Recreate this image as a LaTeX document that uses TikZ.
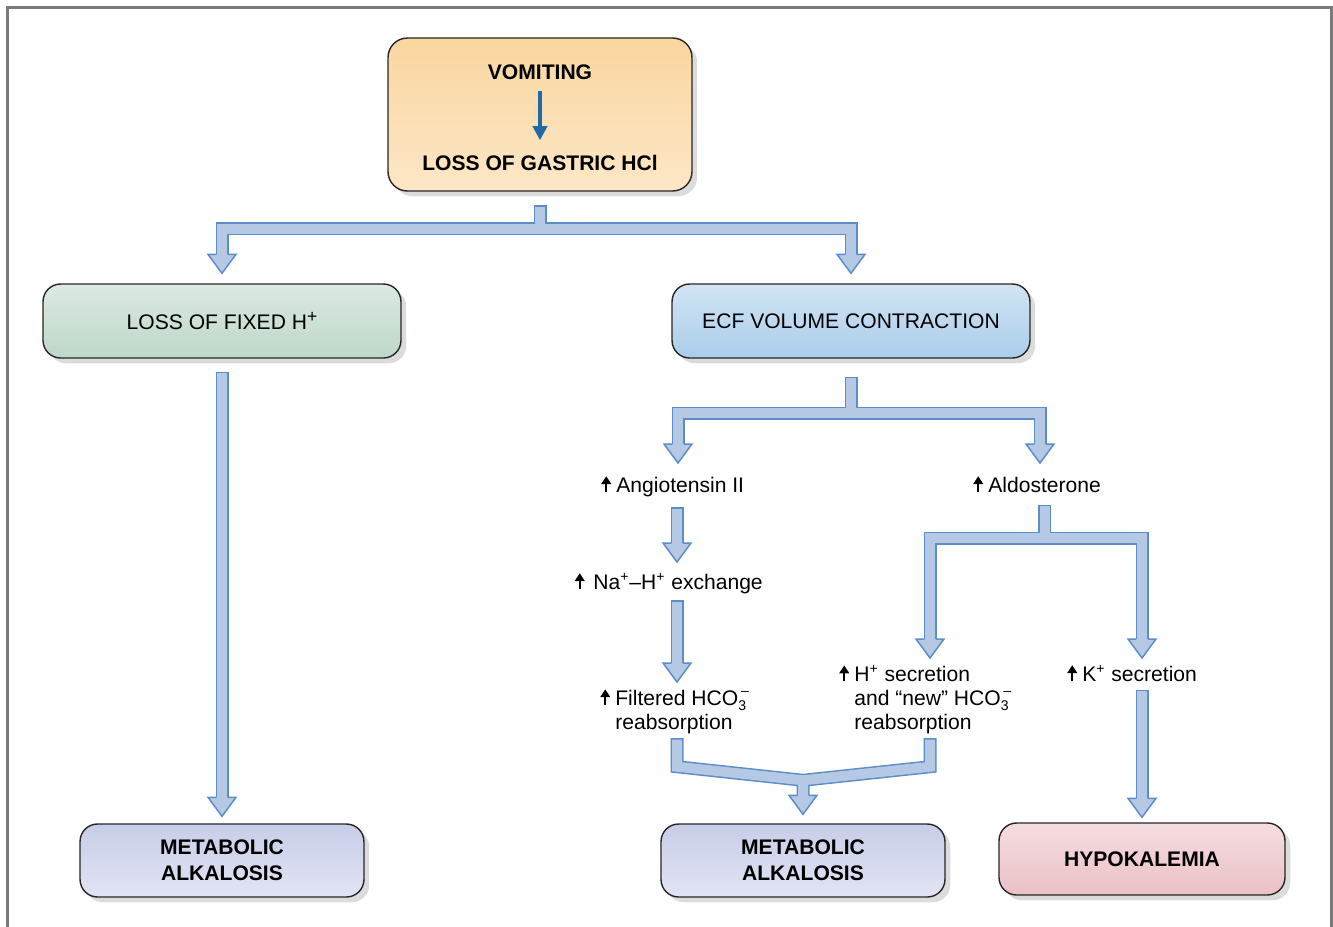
\documentclass[tikz,border=0pt]{standalone}
\usepackage{fontspec}
\setmainfont{Liberation Sans}
\usetikzlibrary{arrows.meta,calc,shadows}

\definecolor{vomfill}{HTML}{FAD6A0}
\definecolor{vomlight}{HTML}{FDE7C6}
\definecolor{fixfill}{HTML}{BED7C8}
\definecolor{fixlight}{HTML}{DCEAE2}
\definecolor{ecffill}{HTML}{AACDEB}
\definecolor{ecflight}{HTML}{D2E4F4}
\definecolor{alkfill}{HTML}{C8CDE8}
\definecolor{alklight}{HTML}{E2E4F4}
\definecolor{hypofill}{HTML}{EAC0C6}
\definecolor{hypolight}{HTML}{F5DDE1}
\definecolor{fatfill}{HTML}{B6C9E4}
\definecolor{fatedge}{HTML}{5D8DC9}
\definecolor{vomarrow}{HTML}{1E6BA8}
\definecolor{framegray}{HTML}{7A7A7A}

% small "increase" arrow in front of a label
\newcommand{\incr}{\tikz[baseline=0pt]\draw[line width=1.4pt,-{Triangle[width=5.5pt,length=4.5pt]}] (0pt,0pt) -- (0pt,9pt);}
% bicarbonate
\newcommand{\hco}{HCO\makebox[0pt][l]{\raisebox{-3pt}{\fontsize{8}{8}\selectfont 3}}\raisebox{5.5pt}{\fontsize{8}{8}\selectfont\hspace{1.5pt}–}}
% head of a wide arrow, base centred on #1
\newcommand{\fathead}[1]{%
    \fill[fatfill] (#1) ++(-14,0) -- ++(28,0) -- ++(-14,19) -- cycle;
    \draw[fatedge, line width=0.85pt, line join=miter] (#1) ++(-5.75,0) -- ++(-8.25,0) -- ++(14,19) -- ++(14,-19) -- ++(-8.25,0);
}

\begin{document}
\begin{tikzpicture}[
    x=0.02cm, y=-0.02cm,
    every node/.style={font=\fontsize{12}{13.6}\selectfont},
    box/.style={
        draw=black!85,
        line width=0.8pt,
        rounded corners=10pt,
        align=center,
        drop shadow={shadow xshift=3pt, shadow yshift=-3pt, opacity=0.3, fill=black!45}
    },
    lbl/.style={inner sep=0pt, anchor=base west, align=left},
    bold/.style={font=\fontsize{12}{14.8}\selectfont\bfseries},
    fat/.style={
        preaction={draw=fatedge, line width=0.26cm, line cap=rect, line join=miter},
        draw=fatfill, line width=0.2cm, line cap=rect, line join=miter
    }
]
    \useasboundingbox (0,0) rectangle (1333,927);

    % frame
    \draw[framegray, line width=1.7pt] (7.5,927) -- (7.5,7.5) -- (1331,7.5) -- (1331,927);

    % Vomiting
    \node[
        box,
        top color=vomfill, middle color=vomfill, bottom color=vomlight,
        minimum width=6.08cm,
        minimum height=3.06cm,
        rounded corners=11pt
    ] (vom) at (540,114.5) {};
    \node[bold] (vomit) at (540,72) {VOMITING};
    \node[bold] (gastric) at (540,163) {LOSS OF GASTRIC HCl};
    \draw[vomarrow, line width=2pt, -{Triangle[width=8pt,length=8pt]}]
        ([yshift=-3pt]vomit.south) -- ([yshift=5pt]gastric.north);

    % Second row
    \node[
        box,
        top color=fixlight, bottom color=fixfill,
        minimum width=7.16cm,
        minimum height=1.48cm
    ] (fixed) at (222,321) {LOSS OF FIXED H\raisebox{4.5pt}{\fontsize{10}{10}\selectfont +}};
    \node[
        box,
        top color=ecflight, bottom color=ecffill,
        minimum width=7.16cm,
        minimum height=1.48cm
    ] (ecf) at (851,321) {ECF VOLUME CONTRACTION};

    % Outcomes
    \node[
        box, bold,
        top color=alkfill, bottom color=alklight,
        minimum width=5.68cm,
        minimum height=1.46cm
    ] (alkleft) at (222,860.5) {METABOLIC\\ALKALOSIS};
    \node[
        box, bold,
        top color=alkfill, bottom color=alklight,
        minimum width=5.68cm,
        minimum height=1.46cm
    ] (alkmid) at (803,860.5) {METABOLIC\\ALKALOSIS};
    \node[
        box, bold,
        top color=hypolight, bottom color=hypofill,
        minimum width=5.72cm,
        minimum height=1.44cm
    ] (hypo) at (1142,859) {HYPOKALEMIA};

    % Mechanism labels (base = last line)
    \node[lbl] (angio) at (616,492) {\llap{\incr\hspace{3pt}}Angiotensin II};
    \node[lbl] (aldo) at (988,492) {\llap{\incr\hspace{3pt}}Aldosterone};
    \node[lbl] (naex) at (593,589) {\llap{\incr\hspace{5pt}}Na\textsuperscript{+}–H\textsuperscript{+} exchange};
    \node[lbl] (filt) at (615,729) {\llap{\incr\hspace{3pt}}Filtered \hco\\reabsorption};
    \node[lbl] (hsec) at (854,729) {\llap{\incr\hspace{3pt}}H\textsuperscript{+} secretion\\and “new” \hco\\reabsorption};
    \node[lbl] (ksec) at (1082,681) {\llap{\incr\hspace{3pt}}K\textsuperscript{+} secretion};

    % Vomiting -> both branches
    \coordinate (hfix) at ($(fixed.north)+(0,-29)$);
    \coordinate (hecf) at ($(ecf.north)+(0,-29)$);
    \draw[fat] ($(vom.south)+(0,20)$) -- ++(0,17) coordinate (split1)
        (hfix) |- (split1) -| (hecf);
    \fathead{hfix}
    \fathead{hecf}

    % Fixed H+ -> alkalosis
    \coordinate (halkl) at ($(alkleft.north)+(0,-26)$);
    \draw[fat] ($(fixed.south)+(0,19.5)$) -- (halkl);
    \fathead{halkl}

    % ECF -> angiotensin / aldosterone
    \coordinate (hang) at (678,444);
    \coordinate (hald) at (1040,444);
    \draw[fat] ($(ecf.south)+(0,24.5)$) -- ++(0,30) coordinate (split2)
        (hang) |- (split2) -| (hald);
    \fathead{hang}
    \fathead{hald}

    % Angiotensin -> Na-H -> filtered
    \coordinate (hna) at (677,543);
    \draw[fat] ($(hna |- angio.south)+(0,17)$) -- (hna);
    \fathead{hna}
    \coordinate (hfilt) at (677,663);
    \draw[fat] ($(hfilt |- naex.south)+(0,13)$) -- (hfilt);
    \fathead{hfilt}

    % Aldosterone -> H+ / K+
    \coordinate (hhsec) at (930,639);
    \coordinate (hksec) at (1142,639);
    \draw[fat] ($(aldo.south)+(0,17.5)$) -- ++(0,27) coordinate (split3)
        (hhsec) |- (split3) -| (hksec);
    \fathead{hhsec}
    \fathead{hksec}

    % K+ -> hypokalemia
    \coordinate (hhyp) at ($(hypo.north)+(0,-24)$);
    \draw[fat] ($(hhyp |- ksec.south)+(0,13.5)$) -- (hhyp);
    \fathead{hhyp}

    % Both -> metabolic alkalosis
    \coordinate (halkm) at ($(alkmid.north)+(0,-28)$);
    \coordinate (merge) at ($(halkm)+(0,-15)$);
    \draw[fat] ($(hfilt |- filt.south)+(0,11)$) -- ++(0,22) -- (merge) -- (halkm)
        ($(hhsec |- hsec.south)+(0,11)$) -- ++(0,22) -- (merge) -- (halkm);
    \fathead{halkm}

\end{tikzpicture}
\end{document}
